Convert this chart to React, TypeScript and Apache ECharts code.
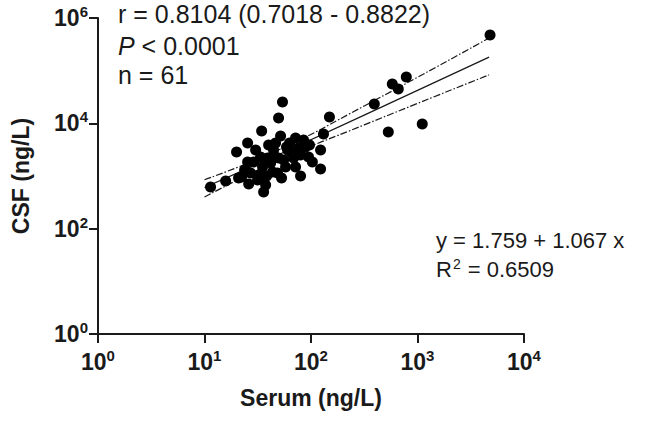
import React, { useEffect, useRef } from "react";
import * as echarts from "echarts";

// Serum (ng/L) and CSF (ng/L) values
const serum = [
  4800, 785, 580, 660, 393, 1108, 532, 54, 49.6, 149,
  34.4, 131, 51.8, 25.4, 20.0, 88.8, 123, 123, 79.8, 11.4,
  15.8, 20.9, 37.5, 35.9, 30.2, 40.0, 39.1, 44.5, 25.4, 35.1,
  27.1, 32.2, 43.6, 46.5, 71.6, 85.1, 76.4, 60.3, 49.6, 68.6,
  94.8, 57.7, 103, 48.5, 62.9, 28.9, 41.8, 31.5, 23.8, 52.9,
  38.3, 55.3, 64.3, 79.8, 22.3, 33.6, 26.0, 44.5, 96.8, 58.9, 71.6,
];
const csf = [
  475000, 75700, 55800, 44800, 23300, 9700, 6840, 25400, 12600, 13200,
  7150, 6270, 5740, 4230, 2850, 3550, 3110, 1360, 1000, 618,
  804, 916, 675, 497, 3110, 3880, 2200, 2500, 1840, 1480,
  1140, 1040, 1190, 4230, 5260, 4820, 3400, 3110, 2200, 2200,
  2290, 1480, 1840, 1140, 4230, 1840, 1770, 839, 1300, 916,
  1000, 2010, 2850, 2500, 957, 2290, 705, 3110, 3880, 3550, 1480,
];

// Fit line and 95% confidence band (values in ng/L)
const fitX = [10, 50, 316, 4700];
const fitY = [605, 2560, 14300, 181000];
const upperY = [850, 3160, 21400, 417000];
const lowerY = [398, 2000, 9330, 83200];

const xTicks = [1, 10, 100, 1000, 10000];
const yTicks = [1, 100, 10000, 1000000];

const annoTop = ["r = 0.8104 (0.7018 - 0.8822)", "P < 0.0001", "n = 61"];
const annoRight = ["y = 1.759 + 1.067 x", "R2 = 0.6509"];

const FONT = "'Liberation Sans', Arial, Helvetica, sans-serif";

const lg = (v: number) => Math.log10(v);

export default function App() {
  const ref = useRef<HTMLDivElement>(null);
  useEffect(() => {
    if (!ref.current) return;
    const chart = echarts.init(ref.current, null, { renderer: "svg" });
    const pts = serum.map((s, i) => [lg(s), lg(csf[i])]);
    const mk = (ys: number[]) => fitX.map((x, i) => [lg(x), lg(ys[i])]);
    const tickRich = {
      b: { fontSize: 23, fontWeight: "bold", fontFamily: FONT, color: "#1a1a1a" },
      s: { fontSize: 15, fontWeight: "bold", fontFamily: FONT, color: "#1a1a1a", padding: [0, 0, 13, 0] },
    };
    const fmt = (v: number) => `{b|10}{s|${Math.round(v)}}`;
    const axisLine = { show: true, onZero: false, lineStyle: { color: "#1a1a1a", width: 2 } };
    const axisTick = { show: true, length: 9, lineStyle: { color: "#1a1a1a", width: 2 } };
    const topStyle = { fontSize: 25, fontFamily: FONT, fill: "#1a1a1a" };
    const rightStyle = { fontSize: 22, fontFamily: FONT, fill: "#1a1a1a" };
    chart.setOption({
      animation: false,
      backgroundColor: "#ffffff",
      grid: { left: 98, right: 137, top: 18, bottom: 87, containLabel: false },
      xAxis: {
        type: "value",
        min: lg(xTicks[0]),
        max: lg(xTicks[xTicks.length - 1]),
        interval: 1,
        name: "Serum (ng/L)",
        nameLocation: "middle",
        nameGap: 52,
        nameTextStyle: { fontSize: 23, fontWeight: "bold", fontFamily: FONT, color: "#1a1a1a" },
        axisLine,
        axisTick,
        splitLine: { show: false },
        axisLabel: { margin: 14, formatter: fmt, rich: tickRich },
      },
      yAxis: {
        type: "value",
        min: lg(yTicks[0]),
        max: lg(yTicks[yTicks.length - 1]),
        interval: 2,
        name: "CSF (ng/L)",
        nameLocation: "middle",
        nameGap: 66,
        nameTextStyle: { fontSize: 23, fontWeight: "bold", fontFamily: FONT, color: "#1a1a1a" },
        axisLine,
        axisTick,
        splitLine: { show: false },
        axisLabel: { margin: 10, formatter: fmt, rich: tickRich },
      },
      series: [
        {
          type: "scatter",
          data: pts,
          symbol: "circle",
          symbolSize: 11,
          itemStyle: { color: "#000000", opacity: 1 },
          z: 3,
        },
        {
          type: "line",
          data: mk(fitY),
          showSymbol: false,
          smooth: false,
          lineStyle: { color: "#1a1a1a", width: 1.3 },
          z: 2,
        },
        {
          type: "line",
          data: mk(upperY),
          showSymbol: false,
          smooth: true,
          lineStyle: { color: "#1a1a1a", width: 1.2, type: [7, 2, 1.5, 2] },
          z: 2,
        },
        {
          type: "line",
          data: mk(lowerY),
          showSymbol: false,
          smooth: true,
          lineStyle: { color: "#1a1a1a", width: 1.2, type: [7, 2, 1.5, 2] },
          z: 2,
        },
      ],
      graphic: [
        { type: "text", left: 118, top: 1, style: { ...topStyle, text: annoTop[0] } },
        {
          type: "text",
          left: 118,
          top: 33,
          style: {
            ...topStyle,
            text: "{i|P}" + annoTop[1].slice(1),
            rich: { i: { fontStyle: "italic", fontSize: 25, fontFamily: FONT, fill: "#1a1a1a" } },
          },
        },
        { type: "text", left: 118, top: 62, style: { ...topStyle, text: annoTop[2] } },
        { type: "text", left: 436, top: 229, style: { ...rightStyle, text: annoRight[0] } },
        {
          type: "text",
          left: 436,
          top: 257,
          style: {
            ...rightStyle,
            text: "R{sup|2}" + annoRight[1].slice(2),
            rich: { sup: { fontSize: 14, fontFamily: FONT, fill: "#1a1a1a", padding: [0, 1, 10, 1] } },
          },
        },
      ],
    });
    return () => chart.dispose();
  }, []);
  return (
    <div
      ref={ref}
      style={{ position: "fixed", left: 0, top: 0, width: 661, height: 421, background: "#fff" }}
    />
  );
}
